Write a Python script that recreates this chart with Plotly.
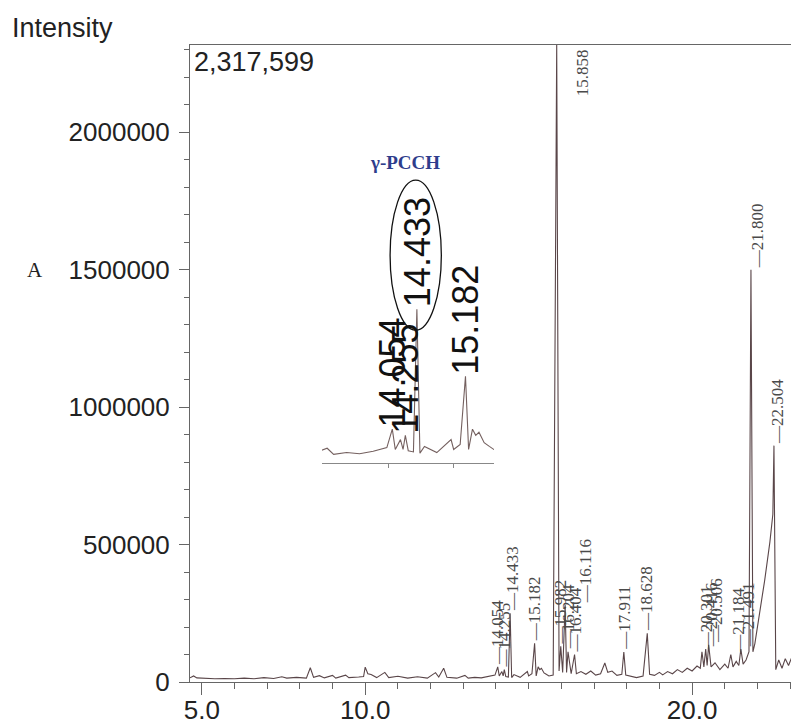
import plotly.graph_objects as go

# ---------------- data ----------------
rt = [4.64, 4.75, 4.85, 5.10, 5.40, 5.70, 6.00, 6.30, 6.60, 6.90, 7.20, 7.45, 7.60, 7.90,
      8.20, 8.32, 8.42, 8.60, 8.75, 9.00, 9.10, 9.40, 9.50, 9.80, 9.95, 10.00, 10.08, 10.18,
      10.35, 10.60, 10.72, 11.00, 11.30, 11.60, 11.90, 12.15, 12.25, 12.40, 12.50, 12.80,
      13.05, 13.15, 13.35, 13.55, 13.76, 13.97, 14.054, 14.10, 14.18, 14.22, 14.255, 14.30,
      14.38, 14.433, 14.48, 14.55, 14.74, 14.96, 15.00, 15.10, 15.182, 15.23, 15.29, 15.34,
      15.39, 15.47, 15.55, 15.62, 15.75, 15.858, 15.93, 15.982, 16.04, 16.116, 16.16, 16.204,
      16.30, 16.404, 16.46, 16.60, 16.75, 16.90, 17.05, 17.20, 17.33, 17.42, 17.55, 17.70,
      17.85, 17.911, 17.97, 18.10, 18.30, 18.50, 18.628, 18.70, 18.85, 19.00, 19.10, 19.25,
      19.40, 19.55, 19.70, 19.85, 20.00, 20.15, 20.25, 20.301, 20.36, 20.416, 20.46, 20.506,
      20.58, 20.70, 20.85, 21.00, 21.10, 21.184, 21.25, 21.35, 21.43, 21.491, 21.56, 21.65,
      21.74, 21.800, 21.86, 21.92, 22.07, 22.22, 22.38, 22.47, 22.504, 22.56, 22.65, 22.75,
      22.85, 22.95, 23.05, 23.15, 23.27]

intensity = [15000, 22000, 15000, 13000, 12000, 13000, 12000, 14000, 12000, 16000, 13000,
             19000, 14000, 17000, 14000, 52000, 17000, 23000, 15000, 24000, 14000, 25000,
             16000, 18000, 20000, 54000, 30000, 27000, 16000, 35000, 16000, 21000, 14000,
             19000, 14000, 34000, 18000, 50000, 17000, 14000, 24000, 14000, 17000, 15000,
             19000, 25000, 55000, 22000, 38000, 22000, 45000, 20000, 18000, 250000, 16000,
             27000, 17000, 38000, 22000, 30000, 141000, 22000, 55000, 45000, 50000, 33000,
             27000, 22000, 25000, 2317599, 40000, 130000, 35000, 280000, 35000, 110000,
             30000, 100000, 30000, 38000, 28000, 40000, 25000, 30000, 69000, 35000, 40000,
             24000, 28000, 109000, 25000, 22000, 16000, 22000, 177000, 28000, 24000, 35000,
             26000, 38000, 30000, 45000, 35000, 50000, 40000, 58000, 50000, 110000, 55000,
             120000, 60000, 135000, 55000, 70000, 45000, 65000, 50000, 100000, 55000, 75000,
             60000, 120000, 65000, 80000, 110000, 1500000, 110000, 140000, 250000, 370000,
             510000, 610000, 860000, 45000, 80000, 50000, 85000, 60000, 90000, 55000, 75000]

main_labels = [14.054, 14.255, 14.433, 15.182, 15.858, 15.982, 16.116, 16.204, 16.404,
               17.911, 18.628, 20.301, 20.416, 20.506, 21.184, 21.491, 21.800, 22.504]
inset_labels = [14.054, 14.255, 14.433, 15.182]

x_tick_vals = [5, 10, 20]
x_tick_text = ["5.0", "10.0", "20.0"]
y_tick_vals = [0, 500000, 1000000, 1500000, 2000000]
y_tick_text = ["0", "500000", "1000000", "1500000", "2000000"]

x_range = [4.64, 23.27]
inset_range = [12.97, 15.62]
compound_name = "γ-PCCH"
panel_letter = "A"

# ---------------- figure ----------------
peak_height = dict(zip(rt, intensity))
y_max = max(intensity)

fig = go.Figure()
fig.add_trace(go.Scatter(x=rt, y=intensity, mode="lines",
                         line=dict(color="#5a4649", width=1.1),
                         hoverinfo="skip", showlegend=False))
fig.add_trace(go.Scatter(x=rt, y=intensity, mode="lines", xaxis="x2", yaxis="y2",
                         line=dict(color="#74605f", width=1.1),
                         hoverinfo="skip", showlegend=False))

annotations = []
label_font = dict(family="Liberation Serif, Times New Roman, serif", size=17, color="#4a4a4a")
shifts = {14.433: 3, 16.116: 20, 20.301: 4, 20.416: 6, 20.506: 8, 21.184: 7,
          21.491: 8, 21.800: 6, 22.504: 3}
for r in main_labels:
    h = peak_height[r]
    if h >= y_max:
        annotations.append(dict(x=r, y=h, xref="x", yref="y", text=f"{r:.3f}",
                                textangle=-90, showarrow=False, xanchor="center",
                                yanchor="top", xshift=26, yshift=-2, font=label_font))
    else:
        annotations.append(dict(x=r, y=h, xref="x", yref="y", text="—" + f"{r:.3f}",
                                textangle=-90, showarrow=False, xanchor="center",
                                yanchor="bottom", xshift=shifts.get(r, 0), yshift=0,
                                font=label_font))

inset_font = dict(family="Liberation Sans, Arial, sans-serif", size=36, color="#111111")
for r in inset_labels:
    annotations.append(dict(x=r, y=peak_height[r], xref="x2", yref="y2", text=f"{r:.3f}",
                            textangle=-90, showarrow=False, xanchor="center",
                            yanchor="bottom", font=inset_font))

annotations.append(dict(x=14.25, y=488000, xref="x2", yref="y2", text=f"<b>{compound_name}</b>",
                        showarrow=False, xanchor="center", yanchor="middle",
                        font=dict(family="Liberation Serif, Times New Roman, serif",
                                  size=19, color="#2e3d8c")))
annotations.append(dict(x=-0.2956, y=1.027, xref="paper", yref="paper", text="Intensity",
                        showarrow=False, xanchor="left", yanchor="middle",
                        font=dict(family="Liberation Sans, Arial, sans-serif", size=27,
                                  color="#222222")))
annotations.append(dict(x=-0.2545, y=0.6468, xref="paper", yref="paper", text=panel_letter,
                        showarrow=False, xanchor="center", yanchor="middle",
                        font=dict(family="Liberation Serif, Times New Roman, serif", size=21,
                                  color="#222222")))
annotations.append(dict(x=0.004, y=0.973, xref="paper", yref="paper", text=f"{y_max:,}",
                        showarrow=False, xanchor="left", yanchor="middle",
                        font=dict(family="Liberation Sans, Arial, sans-serif", size=27,
                                  color="#222222")))

axis_font = dict(family="Liberation Sans, Arial, sans-serif", size=26, color="#222222")
minor_x = [v for v in range(5, 24) if v not in x_tick_vals]
minor_y = [v * 100000 for v in range(0, 24) if v * 100000 not in y_tick_vals]

fig.update_layout(
    width=791, height=719,
    margin=dict(l=182, r=0, t=37, b=45, autoexpand=False),
    paper_bgcolor="white", plot_bgcolor="white",
    showlegend=False,
    annotations=annotations,
    shapes=[dict(type="circle", xref="x2", yref="y2", x0=14.02, x1=14.81,
                 y0=216000, y1=460000, line=dict(color="#111111", width=1.3))],
    xaxis=dict(range=x_range, showgrid=False, zeroline=False, showline=True, mirror=True,
               linecolor="#666666", linewidth=1, ticks="outside", ticklen=12,
               tickcolor="#666666", tickmode="array", tickvals=x_tick_vals,
               ticktext=x_tick_text, tickfont=axis_font, ticklabelstandoff=-7,
               minor=dict(tickmode="array", tickvals=minor_x, ticks="outside", ticklen=6,
                          tickcolor="#666666", showgrid=False)),
    yaxis=dict(range=[0, y_max], showgrid=False, zeroline=False, showline=True,
               linecolor="#666666", linewidth=1, ticks="outside", ticklen=10,
               tickcolor="#666666", tickmode="array", tickvals=y_tick_vals,
               ticktext=y_tick_text, tickfont=axis_font, ticklabelstandoff=4,
               minor=dict(tickmode="array", tickvals=minor_y, ticks="outside", ticklen=5,
                          tickcolor="#666666", showgrid=False)),
    xaxis2=dict(domain=[0.2167, 0.499], anchor="y2", range=inset_range, showgrid=False,
                zeroline=False, showline=True, linecolor="#888888", linewidth=1,
                ticks="outside", ticklen=4, tickcolor="#888888", tickmode="array",
                tickvals=[14, 15], showticklabels=False),
    yaxis2=dict(domain=[0.3438, 0.923], anchor="x2", range=[0, 600000], visible=False),
)

fig.write_html("out.html")
